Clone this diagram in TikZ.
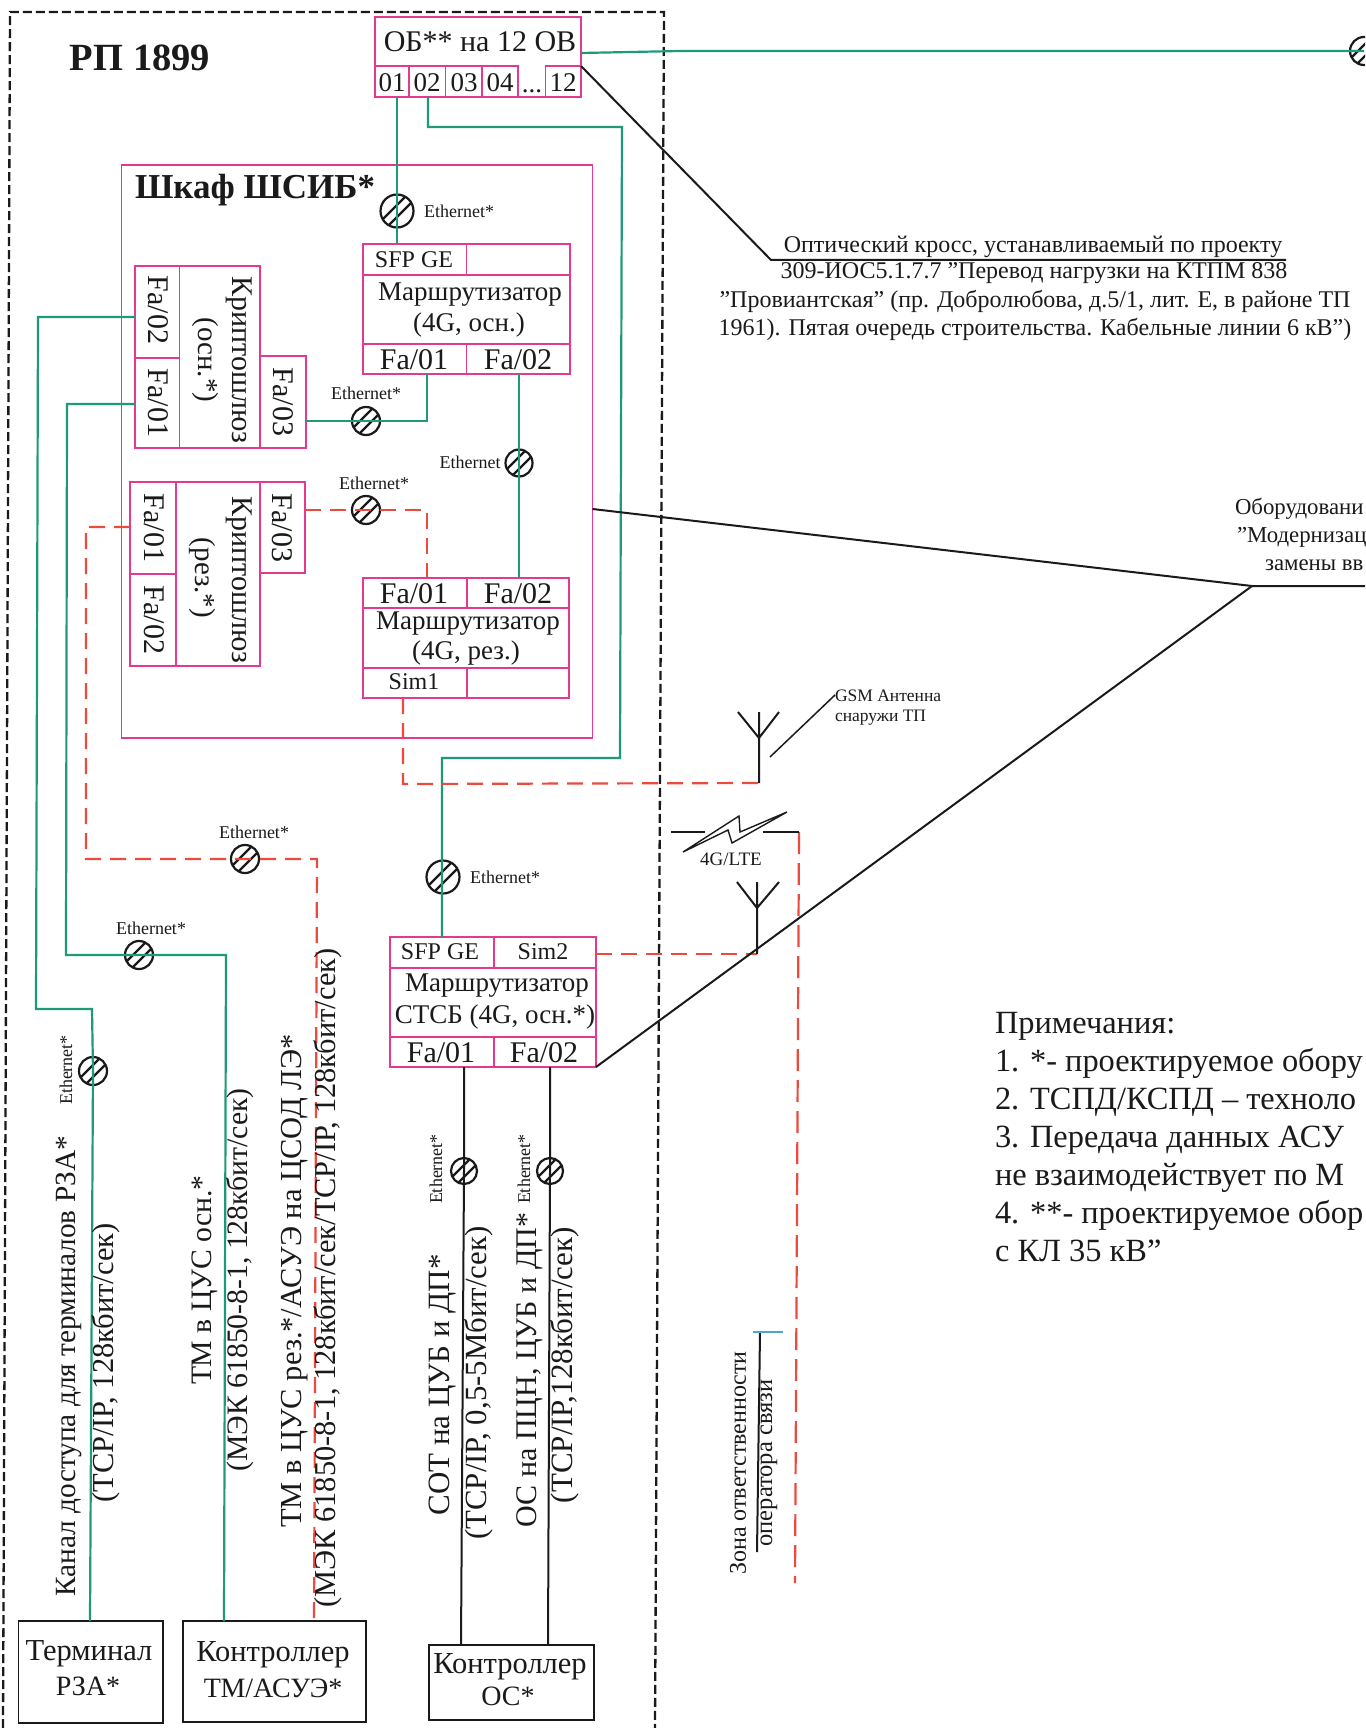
\documentclass[tikz,border=0pt]{standalone}
\usepackage{fontspec}
\setmainfont{Liberation Serif}
\definecolor{pinkc}{HTML}{E5398F}
\definecolor{greenc}{HTML}{1F9A78}
\definecolor{redc}{HTML}{EC4A3C}
\definecolor{bluec}{HTML}{4AA8D0}
\definecolor{inkc}{HTML}{1A1A1A}
\tikzset{
  fs/.style={font=\fontsize{#1}{#1}\selectfont},
  txt/.style={inner sep=0pt,outer sep=0pt,text=inkc},
  pinkbox/.style={draw=pinkc,line width=1.8pt,inner sep=0pt,outer sep=0pt},
  blackbox/.style={draw=inkc,line width=1.8pt,inner sep=0pt,outer sep=0pt},
  eth/.style={circle,draw=inkc,line width=2.2pt,minimum size=#1,inner sep=0pt,outer sep=0pt,
    path picture={\draw[inkc,line width=2.2pt,shift={(path picture bounding box.center)}]
      (-20,14)--(14,-20) (-14,20)--(20,-14);}},
  gline/.style={draw=greenc,line width=2.2pt},
  rline/.style={draw=redc,line width=2.2pt,dash pattern=on 16pt off 9pt},
  bline/.style={draw=inkc,line width=2pt},
  frameline/.style={draw=inkc,line width=2.3pt,dash pattern=on 9pt off 4pt},
}
\newcommand\cellrect[6][pinkbox]{%
  \pgfmathsetmacro\cw{#5-#3}\pgfmathsetmacro\ch{#6-#4}%
  \node[#1,minimum width=\cw pt,minimum height=\ch pt] (#2) at ({(#3+#5)/2},{(#4+#6)/2}) {};}
\begin{document}
\begin{tikzpicture}[x=1pt,y=-1pt]
\useasboundingbox (0,0) rectangle (1365,1728);
\clip (0,0) rectangle (1365,1728);
\fill[white] (0,0) rectangle (1365,1728);
% outer dashed frame
\coordinate (fa) at (3,1728); \coordinate (fb) at (10,12); \coordinate (fc) at (664,12); \coordinate (fd) at (655,1728);
\draw[frameline] (fa) -- (fb) -- (fc) -- (fd);
\node[txt,font=\fontsize{38.5}{38.5}\selectfont\bfseries] (rp) at (140,58) {РП 1899};
% optical box
\cellrect{ob}{375}{17}{581}{97}
\cellrect{ob01}{375}{66}{409}{97}
\cellrect{ob02}{409}{66}{445.5}{97}
\cellrect{ob03}{445.5}{66}{482}{97}
\cellrect{ob04}{482}{66}{518}{97}
\cellrect{ob12}{545.5}{66}{581}{97}
\node[txt,fs=30] (obt) at (480,42) {ОБ** на 12 ОВ};
\node[txt,fs=27] (t01) at (392,83) {01};
\node[txt,fs=27] (t02) at (427,83) {02};
\node[txt,fs=27] (t03) at (464,83) {03};
\node[txt,fs=27] (t04) at (500,83) {04};
\node[txt,fs=27] (tdd) at (532,91) {...};
\node[txt,fs=27] (t12) at (563,83) {12};
% cabinet
\cellrect{shkaf}{121.5}{165}{592.5}{738}
\node[txt,font=\fontsize{35}{35}\selectfont\bfseries,anchor=west] (shkt) at (135,190) {Шкаф ШСИБ*};
% router 1
\cellrect{r1}{363}{244}{570}{374}
\cellrect{r1sfp}{363}{244}{466.5}{275}
\cellrect{r1e}{466.5}{244}{570}{275}
\cellrect{r1f1}{363}{344}{466.5}{374}
\cellrect{r1f2}{466.5}{344}{570}{374}
\node[txt,fs=24] (r1a) at (414,260) {SFP GE};
\node[txt,fs=27] (r1b) at (470,295) {Маршрутизатор};
\node[txt,fs=27] (r1c) at (469,325) {(4G, осн.)};
\node[txt,fs=30] (r1d) at (414,360) {Fa/01};
\node[txt,fs=30] (r1g) at (518,360) {Fa/02};
% crypto 1
\cellrect{c1}{135}{266}{260}{448}
\cellrect{c1f2}{135}{266}{179.5}{358}
\cellrect{c1f1}{135}{358}{179.5}{448}
\cellrect{c1f3}{260}{356}{306}{448}
\node[txt,fs=30,rotate=-90] (c1a) at (158,310) {Fa/02};
\node[txt,fs=30,rotate=-90] (c1b) at (158,403) {Fa/01};
\node[txt,fs=30,rotate=-90] (c1c) at (239,360) {Криптошлюз};
\node[txt,fs=29,rotate=-90] (c1d) at (205,360) {(осн.*)};
\node[txt,fs=30,rotate=-90] (c1g) at (283,402) {Fa/03};
% crypto 2
\cellrect{c2}{130}{482}{260}{666}
\cellrect{c2f1}{130}{482}{176}{574}
\cellrect{c2f2}{130}{574}{176}{666}
\cellrect{c2f3}{260}{482}{305}{573}
\node[txt,fs=30,rotate=-90] (c2a) at (154,528) {Fa/01};
\node[txt,fs=30,rotate=-90] (c2b) at (154,620) {Fa/02};
\node[txt,fs=30,rotate=-90] (c2c) at (239,580) {Криптошлюз};
\node[txt,fs=29,rotate=-90] (c2d) at (202,578) {(рез.*)};
\node[txt,fs=30,rotate=-90] (c2g) at (282,528) {Fa/03};
% router 2
\cellrect{r2}{363}{578}{569}{698}
\cellrect{r2f1}{363}{578}{467}{608}
\cellrect{r2f2}{467}{578}{569}{608}
\cellrect{r2sim}{363}{668}{467}{698}
\cellrect{r2e}{467}{668}{569}{698}
\node[txt,fs=30] (r2a) at (414,594) {Fa/01};
\node[txt,fs=30] (r2b) at (518,594) {Fa/02};
\node[txt,fs=27] (r2c) at (468,624) {Маршрутизатор};
\node[txt,fs=27] (r2d) at (466,653) {(4G, рез.)};
\node[txt,fs=24] (r2g) at (414,682) {Sim1};
% router STSB
\cellrect{rs}{390}{937}{596}{1067}
\cellrect{rssfp}{390}{937}{494}{968}
\cellrect{rssim}{494}{937}{596}{968}
\cellrect{rsf1}{390}{1037}{494}{1067}
\cellrect{rsf2}{494}{1037}{596}{1067}
\node[txt,fs=24] (rsa) at (440,952) {SFP GE};
\node[txt,fs=24] (rsb) at (543,952) {Sim2};
\node[txt,fs=27] (rsc) at (497,986) {Маршрутизатор};
\node[txt,fs=27] (rsd) at (495,1017) {СТСБ (4G, осн.*)};
\node[txt,fs=30] (rsg) at (441,1053) {Fa/01};
\node[txt,fs=30] (rsh) at (544,1053) {Fa/02};
% field devices
\cellrect[blackbox]{term}{18.5}{1621}{163}{1723}
\cellrect[blackbox]{ctm}{183}{1621}{366}{1722}
\cellrect[blackbox]{cos}{429}{1645}{594}{1720}
\node[txt,fs=30.5] (tt1) at (89,1654) {Терминал};
\node[txt,fs=28] (tt2) at (88,1686) {РЗА*};
\node[txt,fs=30.5] (ct1) at (273,1655) {Контроллер};
\node[txt,fs=28] (ct2) at (273,1688) {ТМ/АСУЭ*};
\node[txt,fs=30.5] (co1) at (510,1667) {Контроллер};
\node[txt,fs=28] (co2) at (508,1696) {ОС*};
% line joints and cable symbols
\node[eth=33pt] (e1) at (397,211) {};
\node[eth=28pt] (e2) at (366,421) {};
\node[eth=27pt] (e3) at (519,463) {};
\node[eth=28pt] (e4) at (366,510) {};
\node[eth=33pt] (e5) at (443,877) {};
\node[eth=28pt] (e6) at (245,859) {};
\node[eth=28pt] (e7) at (139,955) {};
\node[eth=28pt] (e8) at (93,1071) {};
\node[eth=26pt] (e9) at (464,1171) {};
\node[eth=26pt] (e10) at (550,1171) {};
\node[eth=28pt] (e11) at (1364,51) {};
\node[txt,fs=18] (l1) at (459,211) {Ethernet*};
\node[txt,fs=18] (l2) at (366,393) {Ethernet*};
\node[txt,fs=18] (l3) at (470,462) {Ethernet};
\node[txt,fs=18] (l4) at (374,483) {Ethernet*};
\node[txt,fs=18] (l5) at (505,877) {Ethernet*};
\node[txt,fs=18] (l6) at (254,832) {Ethernet*};
\node[txt,fs=18] (l7) at (151,928) {Ethernet*};
\node[txt,fs=18,rotate=90] (l8) at (66,1070) {Ethernet*};
\node[txt,fs=18,rotate=90] (l9) at (436,1169) {Ethernet*};
\node[txt,fs=18,rotate=90] (l10) at (524,1169) {Ethernet*};
% green connectors
\coordinate (b1) at (428,127); \coordinate (b2) at (622,127); \coordinate (b3) at (620,758); \coordinate (b4) at (442,758);
\draw[gline] (ob02.south -| b1) -- (b1) -- (b2) -- (b3) -- (b4) -- (rssfp.north -| b4);
\draw[gline] (ob01.south -| e1) -- (e1.center) -- (r1sfp.north -| e1);
\draw[gline] (c1f3.east |- e2) -- (e2.center) -| (r1f1.south -| 427,0);
\draw[gline] (r1f2.south -| e3) -- (e3.center) -- (r2f2.north -| e3);
\coordinate (g1) at (134,317); \coordinate (g2) at (38,317); \coordinate (g3) at (36,1009); \coordinate (g4) at (92,1009);
\draw[gline] (c1f2.west |- g1) -- (g2) -- (g3) -- (g4) -- (e8.center) -- (term.north -| 90,0);
\coordinate (g5) at (67,404); \coordinate (g6) at (66,955); \coordinate (g7) at (226,955);
\draw[gline] (c1f1.west |- g5) -- (g5) -- (g6) -- (e7.center) -- (g7) -- (ctm.north -| 224,0);
\coordinate (g8) at (680,51);
\draw[gline] (ob.east |- 0,53) -- (g8) -- (e11.center);
% red connectors
\draw[rline] (c2f3.east |- e4) -- (e4.center) -| (r2f1.north -| 427,0);
\coordinate (r1) at (86,527); \coordinate (r2) at (86,859); \coordinate (r3) at (317,859);
\draw[rline] (c2f1.west |- r1) -- (r1) -- (r2) -- (e6.center) -- (r3) -- (ctm.north -| 314,0);
\coordinate (a1) at (759,783); \coordinate (a1p) at (403,784);
\draw[rline] (r2sim.south -| a1p) -- (a1p) -- (a1);
\coordinate (a2) at (757,954);
\draw[rline] (rssim.east |- a2) -- (a2);
\coordinate (z1) at (799,832); \coordinate (z2) at (795,1583);
\draw[draw=redc,line width=2.2pt,dash pattern=on 22pt off 9pt] (z1) -- (z2);
% antennas
\coordinate (a1t) at (759,712); \coordinate (a1v) at (759,738);
\coordinate (a1l) at (738,712); \coordinate (a1r) at (779,712);
\draw[bline] (a1) -- (a1t) (a1l) -- (a1v) -- (a1r);
\coordinate (a2t) at (757,882); \coordinate (a2v) at (757,908);
\coordinate (a2l) at (737,882); \coordinate (a2r) at (779,882);
\draw[bline] (a2) -- (a2t) (a2l) -- (a2v) -- (a2r);
% GSM note
\coordinate (gsm1) at (770,757); \coordinate (gsm2) at (835,695);
\draw[line width=1.5pt,inkc] (gsm1) -- (gsm2);
\node[txt,fs=17.5,anchor=west] (gsma) at (835,696) {GSM Антенна};
\node[txt,fs=17.5,anchor=west] (gsmb) at (835,718) {снаружи ТП};
% radio link
\coordinate (s1) at (671,832); \coordinate (s2) at (705,832); \coordinate (s3) at (763,832);
\draw[bline] (s1) -- (s2);
\draw[bline] (s3) -- (z1);
\draw[inkc,line width=1.4pt,line join=miter] (683,852) -- (728,830) -- (732,843) -- (787,812) -- (740,832) -- (739,816) -- cycle;
\node[txt,fs=19] (lte) at (731,859) {4G/LTE};
% black leaders
\coordinate (k1) at (771,260); \coordinate (k2) at (1286,260);
\draw[bline] (ob12.north east) -- (k1) -- (k2);
\coordinate (m1) at (1252,586); \coordinate (m2) at (1365,586); \coordinate (m0) at (592.5,509);
\draw[bline] (shkaf.east |- m0) -- (m1) -- (m2);
\draw[bline] (rsf2.south east) -- (m1);
\draw[bline] (rsf1.south -| e9) -- (e9.center) -- (cos.north -| 461,0) coordinate (n1);
\draw[bline] (rsf2.south -| e10) -- (e10.center) -- (cos.north -| 548,0);
% top note
\node[txt,fs=24] (n1a) at (1033,247) {Оптический кросс, устанавливаемый по проекту};
\node[txt,fs=24] (n1b) at (1034,273) {309-ИОС5.1.7.7 "Перевод нагрузки на КТПМ 838};
\node[txt,fs=24] (n1c) at (1035,301) {"Провиантская" (пр. Добролюбова, д.5/1, лит. Е, в районе ТП};
\node[txt,fs=24] (n1d) at (1035,329) {1961). Пятая очередь строительства. Кабельные линии 6 кВ")};
% right note
\node[txt,fs=22.8,anchor=west] (n2a) at (1235,509) {Оборудовани};
\node[txt,fs=22.8,anchor=west] (n2b) at (1237,537) {"Модернизац};
\node[txt,fs=22.8,anchor=west] (n2c) at (1265,565) {замены вв};
% notes
\node[txt,fs=32.4,anchor=base west] (p0) at (995,1033) {Примечания:};
\node[txt,fs=32.4,anchor=base west] (p1) at (995,1071) {1. *- проектируемое обору};
\node[txt,fs=32.4,anchor=base west] (p2) at (995,1109) {2. ТСПД/КСПД – техноло};
\node[txt,fs=32.4,anchor=base west] (p3) at (995,1147) {3. Передача данных АСУ};
\node[txt,fs=32.4,anchor=base west] (p4) at (995,1185) {не взаимодействует по М};
\node[txt,fs=32.4,anchor=base west] (p5) at (995,1223) {4. **- проектируемое обор};
\node[txt,fs=32.4,anchor=base west] (p6) at (995,1261) {с КЛ 35 кВ"};
% rotated channel labels
\node[txt,fs=29.3,rotate=90] (v1) at (69,1366) {Канал доступа для терминалов РЗА*};
\node[txt,fs=30.5,rotate=90] (v2) at (106,1363) {(TCP/IP, 128кбит/сек)};
\node[txt,fs=29.7,rotate=90] (v3) at (205,1280) {ТМ в ЦУС осн.*};
\node[txt,fs=29.7,rotate=90] (v4) at (240,1280) {(МЭК 61850-8-1, 128кбит/сек)};
\node[txt,fs=30.5,rotate=90] (v5) at (295,1281) {ТМ в ЦУС рез.*/АСУЭ на ЦСОД ЛЭ*};
\node[txt,fs=30.4,rotate=90] (v6) at (328,1278) {(МЭК 61850-8-1, 128кбит/сек/TCP/IP, 128кбит/сек)};
\node[txt,fs=31,rotate=90] (v7) at (443,1385) {СОТ на ЦУБ и ДП*};
\node[txt,fs=30.8,rotate=90] (v8) at (479,1383) {(TCP/IP, 0,5-5Мбит/сек)};
\node[txt,fs=30,rotate=90] (v9) at (530,1370) {ОС на ПЦН, ЦУБ и ДП*};
\node[txt,fs=31,rotate=90] (v10) at (565,1365) {(TCP/IP,128кбит/сек)};
% responsibility zone
\coordinate (y1) at (760,1332); \coordinate (y2) at (757,1552); \coordinate (y3) at (753,1332); \coordinate (y4) at (783,1332);
\draw[bline] (y1) -- (y2);
\draw[draw=bluec,line width=2pt] (y3) -- (y4);
\node[txt,fs=24,rotate=90] (zo1) at (738,1463) {Зона ответственности};
\node[txt,fs=24.5,rotate=90] (zo2) at (769,1463) {оператора связи};
\end{tikzpicture}
\end{document}
